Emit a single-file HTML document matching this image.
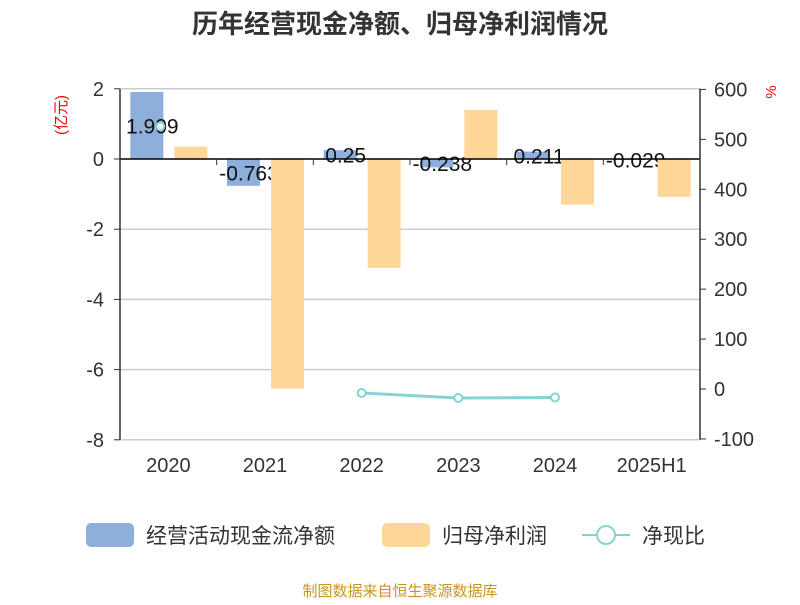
<!DOCTYPE html>
<html><head><meta charset="utf-8"><style>
body{margin:0;background:#fff;font-family:"Liberation Sans","Noto Sans CJK SC",sans-serif}
</style></head><body>
<svg id="c" width="800" height="600" xmlns="http://www.w3.org/2000/svg" font-family="Liberation Sans, Noto Sans CJK SC, sans-serif">
<text x="400" y="33" text-anchor="middle" font-size="26" font-weight="bold" fill="#333">历年经营现金净额、归母净利润情况</text>
<text x="66" y="115" text-anchor="middle" font-size="15" fill="#e00" transform="rotate(-90 66 115)">(亿元)</text>
<text x="776" y="92" text-anchor="middle" font-size="15" fill="#e00" transform="rotate(-90 776 92)">%</text>
<g id="grid"></g><g id="cbars"></g><g id="labels"></g><g id="bars"></g><g id="axes"></g><g id="line"></g>
<g>
<rect x="86" y="523" width="48" height="24" rx="5" fill="#8eaedb"/>
<text x="146" y="543" font-size="21" fill="#333">经营活动现金流净额</text>
<rect x="382" y="523" width="48" height="24" rx="5" fill="#ffd899"/>
<text x="442" y="543" font-size="21" fill="#333">归母净利润</text>
<line x1="582" y1="535" x2="630" y2="535" stroke="#84d4d6" stroke-width="2"/>
<circle cx="606" cy="535" r="9" fill="#fff" stroke="#84d4d6" stroke-width="2"/>
<text x="642" y="543" font-size="21" fill="#333">净现比</text>
</g>
<text x="400" y="596" text-anchor="middle" font-size="15" fill="#c8961e">制图数据来自恒生聚源数据库</text>
</svg>
<script>
const categories=["2020","2021","2022","2023","2024","2025H1"];
const cashFlow=[1.909,-0.763,0.25,-0.238,0.211,-0.029];
const netProfit=[0.35,-6.54,-3.1,1.4,-1.3,-1.08];
const ratio=[526,null,-8,-18,-17,null];
const leftTicks=[2,0,-2,-4,-6,-8];
const rightTicks=[600,500,400,300,200,100,0,-100];
const NS="http://www.w3.org/2000/svg";
const X0=120,X1=700,n=categories.length,bw=(X1-X0)/n;
const yL=v=>159-v*35.1;
const yR=v=>389-v*0.4993;
const xc=i=>X0+bw*(i+0.5);
function el(t,a,p){const e=document.createElementNS(NS,t);for(const k in a)e.setAttribute(k,a[k]);document.getElementById(p).appendChild(e);return e;}
leftTicks.forEach(t=>{
 const g=el('line',{x1:X0,x2:X1,y1:yL(t),y2:yL(t),stroke:t==0?'#000':'#ccc','stroke-width':1.5},t==0?'axes':'grid');
 
 const tx=el('text',{x:104,y:yL(t)+7,'text-anchor':'end','font-size':20,fill:'#333'},'axes');tx.textContent=t;
 
 const tk=el('line',{x1:X0-6,x2:X0,y1:yL(t),y2:yL(t),stroke:'#333'},'axes');
 
});
rightTicks.forEach(t=>{
 const tx=el('text',{x:714,y:yR(t)+7,'font-size':20,fill:'#333'},'axes');tx.textContent=t;
 
 const tk=el('line',{x1:X1,x2:X1+6,y1:yR(t),y2:yR(t),stroke:'#333'},'axes');
 
});
let a=el('line',{x1:X0,x2:X0,y1:yL(2),y2:yL(-8),stroke:'#333','stroke-width':1.5},'axes');

a=el('line',{x1:X1,x2:X1,y1:yL(2),y2:yL(-8),stroke:'#333','stroke-width':1.5},'axes');

categories.forEach((c,i)=>{
 const tx=el('text',{x:xc(i),y:472,'text-anchor':'middle','font-size':20,fill:'#333'},'axes');tx.textContent=c;
 
 const tk=el('line',{x1:X0+bw*i,x2:X0+bw*i,y1:yL(0),y2:yL(0)+6,stroke:'#333'},'axes');
 
 const v=cashFlow[i],y0=yL(0),yv=yL(v);
 const b=el('rect',{x:xc(i)-38,y:Math.min(y0,yv),width:33,height:Math.abs(yv-y0),fill:'#8eaedb'},'cbars');
 
 const p=netProfit[i],yp=yL(p);
 const b2=el('rect',{x:xc(i)+6,y:Math.min(y0,yp),width:33,height:Math.abs(yp-y0),fill:'#ffd899'},'bars');
 
 const lb=el('text',{x:xc(i)-16,y:(y0+yv)/2+8,'text-anchor':'middle','font-size':21,fill:'#111'},'labels');lb.textContent=v;
 
});
let seg=[];
ratio.forEach((r,i)=>{
 if(r===null){seg=[];return;}
 seg.push([xc(i),yR(r)]);
 if(seg.length>1){const l=el('line',{x1:seg[seg.length-2][0],y1:seg[seg.length-2][1],x2:seg[seg.length-1][0],y2:seg[seg.length-1][1],stroke:'#84d4d6','stroke-width':3},'line');
 }
});
ratio.forEach((r,i)=>{
 if(r===null)return;
 const cc=el('circle',{cx:i==0?xc(i)-8:xc(i),cy:yR(r),r:4,fill:'#fff',stroke:'#84d4d6','stroke-width':2},'line');
 
});
</script>
</body></html>
